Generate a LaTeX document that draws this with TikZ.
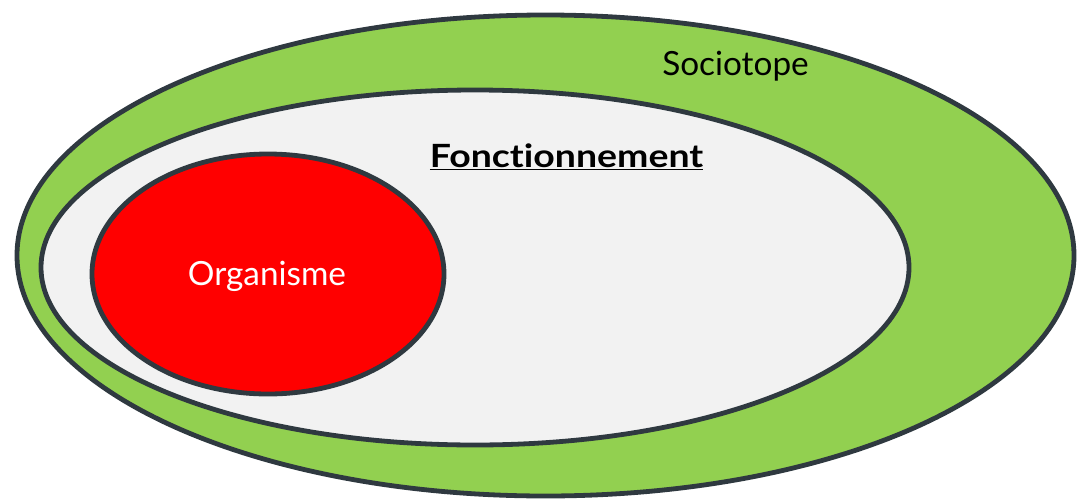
\documentclass[tikz,border=0pt]{standalone}
\usepackage{fontspec}
\setmainfont[Ligatures=NoCommon]{Lato}
\definecolor{rim}{HTML}{2F3940}
\definecolor{leaf}{HTML}{92D050}
\definecolor{paper}{HTML}{F2F2F2}
\definecolor{blood}{HTML}{FF0000}
\tikzset{
  zone/.style={draw=rim, line width=3.6pt},
  lbl/.style={font=\fontsize{25}{30}\selectfont, inner sep=0pt}
}
\begin{document}
\begin{tikzpicture}[x=0.75pt, y=-0.75pt]
\useasboundingbox (0,0) rectangle (1078,500);
% nested ellipses: sociotope > fonctionnement > organisme
\path[zone, fill=leaf] (545.5,255.5) ellipse [x radius=528.5, y radius=240.5];
\path[zone, fill=paper] (475,267.5) ellipse [x radius=434, y radius=177.5];
\path[zone, fill=blood] (268,274) ellipse [x radius=176, y radius=120];
% labels
\node[lbl, anchor=base] (socio) at (735.5,75) {Sociotope};
\node[lbl, anchor=base, font=\fontsize{24}{29}\selectfont\bfseries] (fonc) at (566.5,167) {\scalebox{1.17}[1]{\underline{Fonctionnement}}};
\node[lbl, anchor=base, text=white] (orga) at (267,285) {Organisme};
\end{tikzpicture}
\end{document}
